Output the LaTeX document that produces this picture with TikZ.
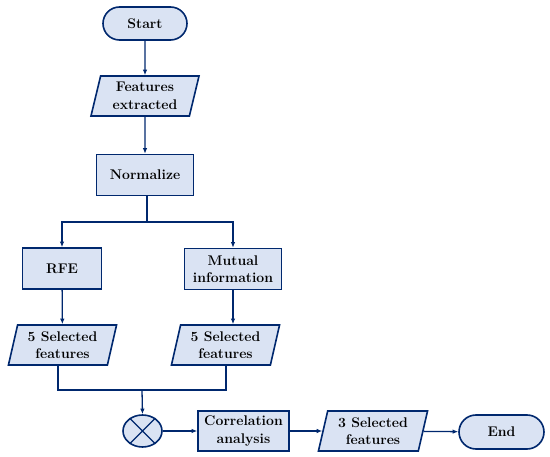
\documentclass[tikz,border=0pt]{standalone}
\usetikzlibrary{shapes.geometric,shapes.misc,arrows.meta}
\definecolor{navy}{RGB}{0,40,110}
\definecolor{pale}{RGB}{218,227,243}
\begin{document}
\begin{tikzpicture}[x=1pt,y=-1pt,
  base/.style={draw=navy,fill=pale,line width=1.6pt,font=\fontsize{14}{17.5}\selectfont\bfseries,align=center,inner sep=1pt},
  term/.style={base,rounded rectangle,minimum width=86pt,minimum height=33pt},
  proc/.style={base,rectangle,minimum height=41pt},
  io/.style={base,trapezium,trapezium left angle=76,trapezium right angle=104,trapezium stretches=true,minimum width=109pt,minimum height=40pt},
  conn/.style={draw=navy,line width=1.3pt},
  arr/.style={conn,-{Latex[length=5.5pt,width=4.5pt]}}]
\useasboundingbox (0,0) rectangle (550,457);
\node[term] (start) at (145,23.5) {Start};
\node[io] (feat) at (145,96) {Features\\extracted};
\node[proc,minimum width=97pt] (norm) at (145,175) {Normalize};
\node[proc,minimum width=79pt] (rfe) at (62,268.5) {RFE};
\node[proc,minimum width=97pt] (mi) at (233,269) {Mutual\\information};
\node[io] (sel1) at (62.5,345) {5 Selected\\features};
\node[io] (sel2) at (225.5,345) {5 Selected\\features};
\node[base,ellipse,minimum width=39pt,minimum height=32pt,inner sep=0pt] (mix) at (142.5,431) {};
\draw[conn,line width=1.2pt] (mix.45) -- (mix.225) (mix.135) -- (mix.315);
\node[proc,minimum width=91pt,minimum height=40pt] (corr) at (243.5,431) {Correlation\\analysis};
\node[io,minimum width=110pt] (sel3) at (373,431) {3 Selected\\features};
\node[term,minimum width=87pt,minimum height=34pt] (end) at (501.5,432) {End};
\coordinate (split) at (147,222);
\coordinate (join) at (142,390);
\draw[arr] (start) -- (feat);
\draw[arr] (feat) -- (norm);
\draw[conn,line width=2.2pt] (norm.south -| split) -- (split);
\draw[arr] (split) -| (rfe.north);
\draw[arr] (split) -| (mi.north);
\draw[arr] (rfe) -- (sel1);
\draw[arr] (mi.south) -- (mi.south |- sel2.north);
\draw[conn] (sel1.south -| 58,0) |- (join) -| (sel2.south -| 226,0);
\draw[arr] (join) -- (mix.north);
\draw[arr] (mix) -- (corr);
\draw[arr] (corr) -- (sel3);
\draw[arr] (sel3) -- (end);
\end{tikzpicture}
\end{document}
